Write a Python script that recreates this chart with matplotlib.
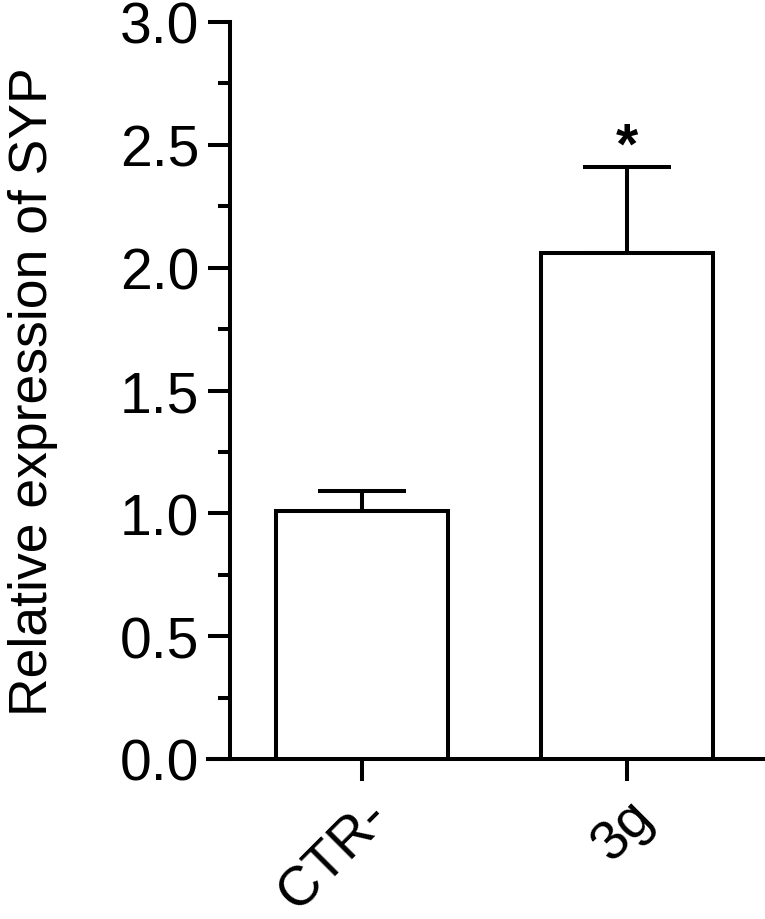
import numpy as np
import matplotlib
matplotlib.use('Agg')
import matplotlib.pyplot as plt

# Relative expression of SYP, mean + SEM
groups = ['CTR-', '3g']
means = [1.01, 2.06]
errs = [0.08, 0.35]
stars = ['', '*']

plt.rcParams['font.family'] = ['Liberation Sans', 'DejaVu Sans']

fig = plt.figure(figsize=(7.65, 9.2), dpi=100)
ax = fig.add_axes([208/765, 1 - 760/920, 1 - 208/765, (760 - 23)/920])

lw = 2.9
fs = 41
x = np.arange(len(groups))
ax.bar(x, means, width=0.65, color='white', edgecolor='black', linewidth=lw, zorder=3)
ax.errorbar(x, means, yerr=[np.zeros(len(errs)), errs], fmt='none', ecolor='black',
            elinewidth=lw, capsize=32, capthick=lw, zorder=2)

for xi, m, e, s in zip(x, means, errs, stars):
    if s:
        ax.text(xi, m + e - 0.03, s, ha='center', va='bottom', fontsize=fs, fontweight='bold')

ax.set_xlim(-0.58, 1.52)
ax.set_ylim(0, 3.0)
ax.set_yticks(np.arange(0, 3.01, 0.5))
ax.set_yticks(np.arange(0.25, 3.0, 0.5), minor=True)
ax.set_yticklabels([f'{v:.1f}' for v in np.arange(0, 3.01, 0.5)])
ax.set_xticks(x)
ax.set_xticklabels(groups, rotation=45, ha='right', rotation_mode='anchor')

ax.spines['top'].set_visible(False)
ax.spines['right'].set_visible(False)
ax.spines['left'].set_position(('axes', 22/557))
ax.spines['left'].set_linewidth(lw)
ax.spines['bottom'].set_linewidth(lw)

ax.tick_params(axis='y', which='major', length=16, width=lw, labelsize=fs, pad=6)
ax.tick_params(axis='y', which='minor', length=9, width=lw)
ax.tick_params(axis='x', which='major', length=16, width=lw, labelsize=40, pad=6)

ax.set_ylabel('Relative expression of SYP', fontsize=38.5, labelpad=45)

fig.savefig('out.png', dpi=100)
